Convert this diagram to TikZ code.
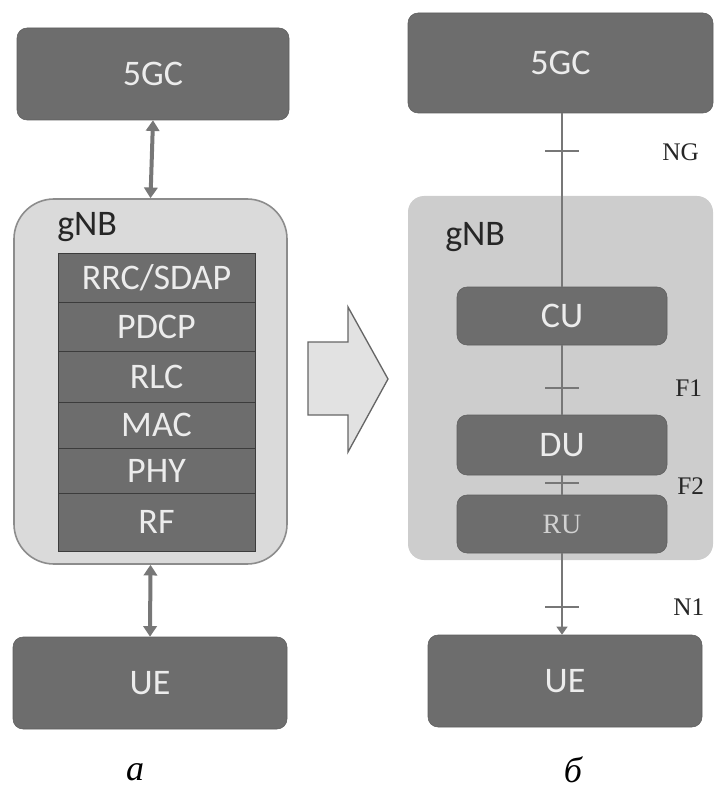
\documentclass[tikz,border=0pt]{standalone}
\usepackage{fontspec}
\setmainfont{Liberation Serif}
\newfontfamily\boxfont{Carlito}
\usetikzlibrary{arrows.meta}

\definecolor{boxgray}{HTML}{6D6D6D}
\definecolor{boxedge}{HTML}{5E5E5E}
\definecolor{boxtext}{HTML}{ECECEC}
\definecolor{layeredge}{HTML}{3C3C3C}
\definecolor{gnbfilla}{HTML}{DADADA}
\definecolor{gnbfillb}{HTML}{CDCDCD}
\definecolor{linkgray}{HTML}{777777}
\definecolor{arrowfill}{HTML}{E2E2E2}

\newcommand*{\boxsize}{\fontsize{27}{30}\selectfont}
\newcommand*{\ticklen}{12.4pt}

\begin{document}
\begin{tikzpicture}
[
	x=0.75pt,y=-0.75pt,
	boxdim/.style 2 args={minimum width=#1*0.75pt,minimum height=#2*0.75pt},
	darkbox/.style={draw=boxedge,fill=boxgray,rounded corners=7.5pt,inner sep=0pt,text=boxtext,font=\boxfont\boxsize},
	layer/.style={draw=layeredge,fill=boxgray,inner sep=0pt,text=boxtext,font=\boxfont\boxsize,boxdim={197}{#1}},
	gnbtext/.style={anchor=base west,inner sep=0pt,text=black!85,font=\boxfont\boxsize},
	dblarrow/.style={linkgray,line width=3pt,{Triangle[width=10pt,length=8pt]}-{Triangle[width=10pt,length=8pt]}},
	iface/.style={linkgray,line width=1.5pt},
	tick/.style={linkgray,line width=1.5pt},
	iflabel/.style={anchor=west,inner sep=0pt,font=\fontsize{19}{21}\selectfont,text=black!85},
	caption/.style={anchor=base,inner sep=0pt,font=\itshape\fontsize{27}{30}\selectfont}
]

	\useasboundingbox (0,0) rectangle (713,791);

	% a: monolithic gNB
	\node[darkbox,boxdim={272}{92}] (core5a) at (153,74) {5GC};
	\node[draw=black!45,line width=1.2pt,fill=gnbfilla,rounded corners=30pt,inner sep=0pt,boxdim={273}{365}] (gnba) at (150.5,381.5) {};
	\node[gnbtext] (gnbalbl) at (57,236) {gNB};

	\node[layer=49] (rrc) at (156.5,277.5) {RRC/SDAP};
	\node[layer=49] (pdcp) at (156.5,326.5) {PDCP};
	\node[layer=51] (rlc) at (156.5,376.5) {RLC};
	\node[layer=46] (mac) at (156.5,425) {MAC};
	\node[layer=45] (phy) at (156.5,470.5) {PHY};
	\node[layer=58] (rf) at (156.5,522) {RF};

	\node[darkbox,boxdim={274}{92}] (uea) at (150,683) {UE};

	\draw[dblarrow] (core5a.south) -- (gnba.north);
	\draw[dblarrow] (gnba.south) -- (uea.north);

	% transition arrow
	\draw[black!60,line width=1pt,fill=arrowfill,line join=miter]
		(308,342) -- (348,342) -- (348,307) -- (388,379) -- (348,452) -- (348,415) -- (308,415) -- cycle;

	% b: split gNB
	\node[darkbox,boxdim={305}{100}] (core5b) at (560.5,63) {5GC};
	\node[fill=gnbfillb,rounded corners=12pt,inner sep=0pt,boxdim={305}{364}] (gnbb) at (560.5,378) {};
	\node[gnbtext] (gnbblbl) at (445,246) {gNB};

	\node[darkbox,boxdim={210}{58}] (cu) at (562,316) {CU};
	\node[darkbox,boxdim={210}{60}] (du) at (562,445) {DU};
	\node[darkbox,boxdim={210}{58},font=\fontsize{21}{24}\selectfont,text=black!18] (ru) at (562,524) {RU};
	\node[darkbox,boxdim={274}{92}] (ueb) at (565,681) {UE};

	\draw[iface] (cu.north |- core5b.south) -- coordinate[pos=0.22] (tickng) (cu.north);
	\draw[iface] (cu.south) -- coordinate[pos=0.61] (tickfa) (du.north);
	\draw[iface] (du.south) -- coordinate[pos=0.4] (tickfb) (ru.north);
	\draw[iface,-{Triangle[width=8pt,length=6pt]}] (ru.south) -- coordinate[pos=0.66] (ticknb) (ru.south |- ueb.north);

	\foreach \t in {tickng,tickfa,tickfb,ticknb}
		\draw[tick] ([xshift=-\ticklen]\t) -- ([xshift=\ticklen]\t);

	\node[iflabel] (nglbl) at (662,152) {NG};
	\node[iflabel] (falbl) at (675,388) {F1};
	\node[iflabel] (fblbl) at (677,486) {F2};
	\node[iflabel] (nblbl) at (673,607) {N1};

	% captions
	\node[caption] (capa) at (135,780) {а};
	\node[caption] (capb) at (573,782) {б};

\end{tikzpicture}
\end{document}
